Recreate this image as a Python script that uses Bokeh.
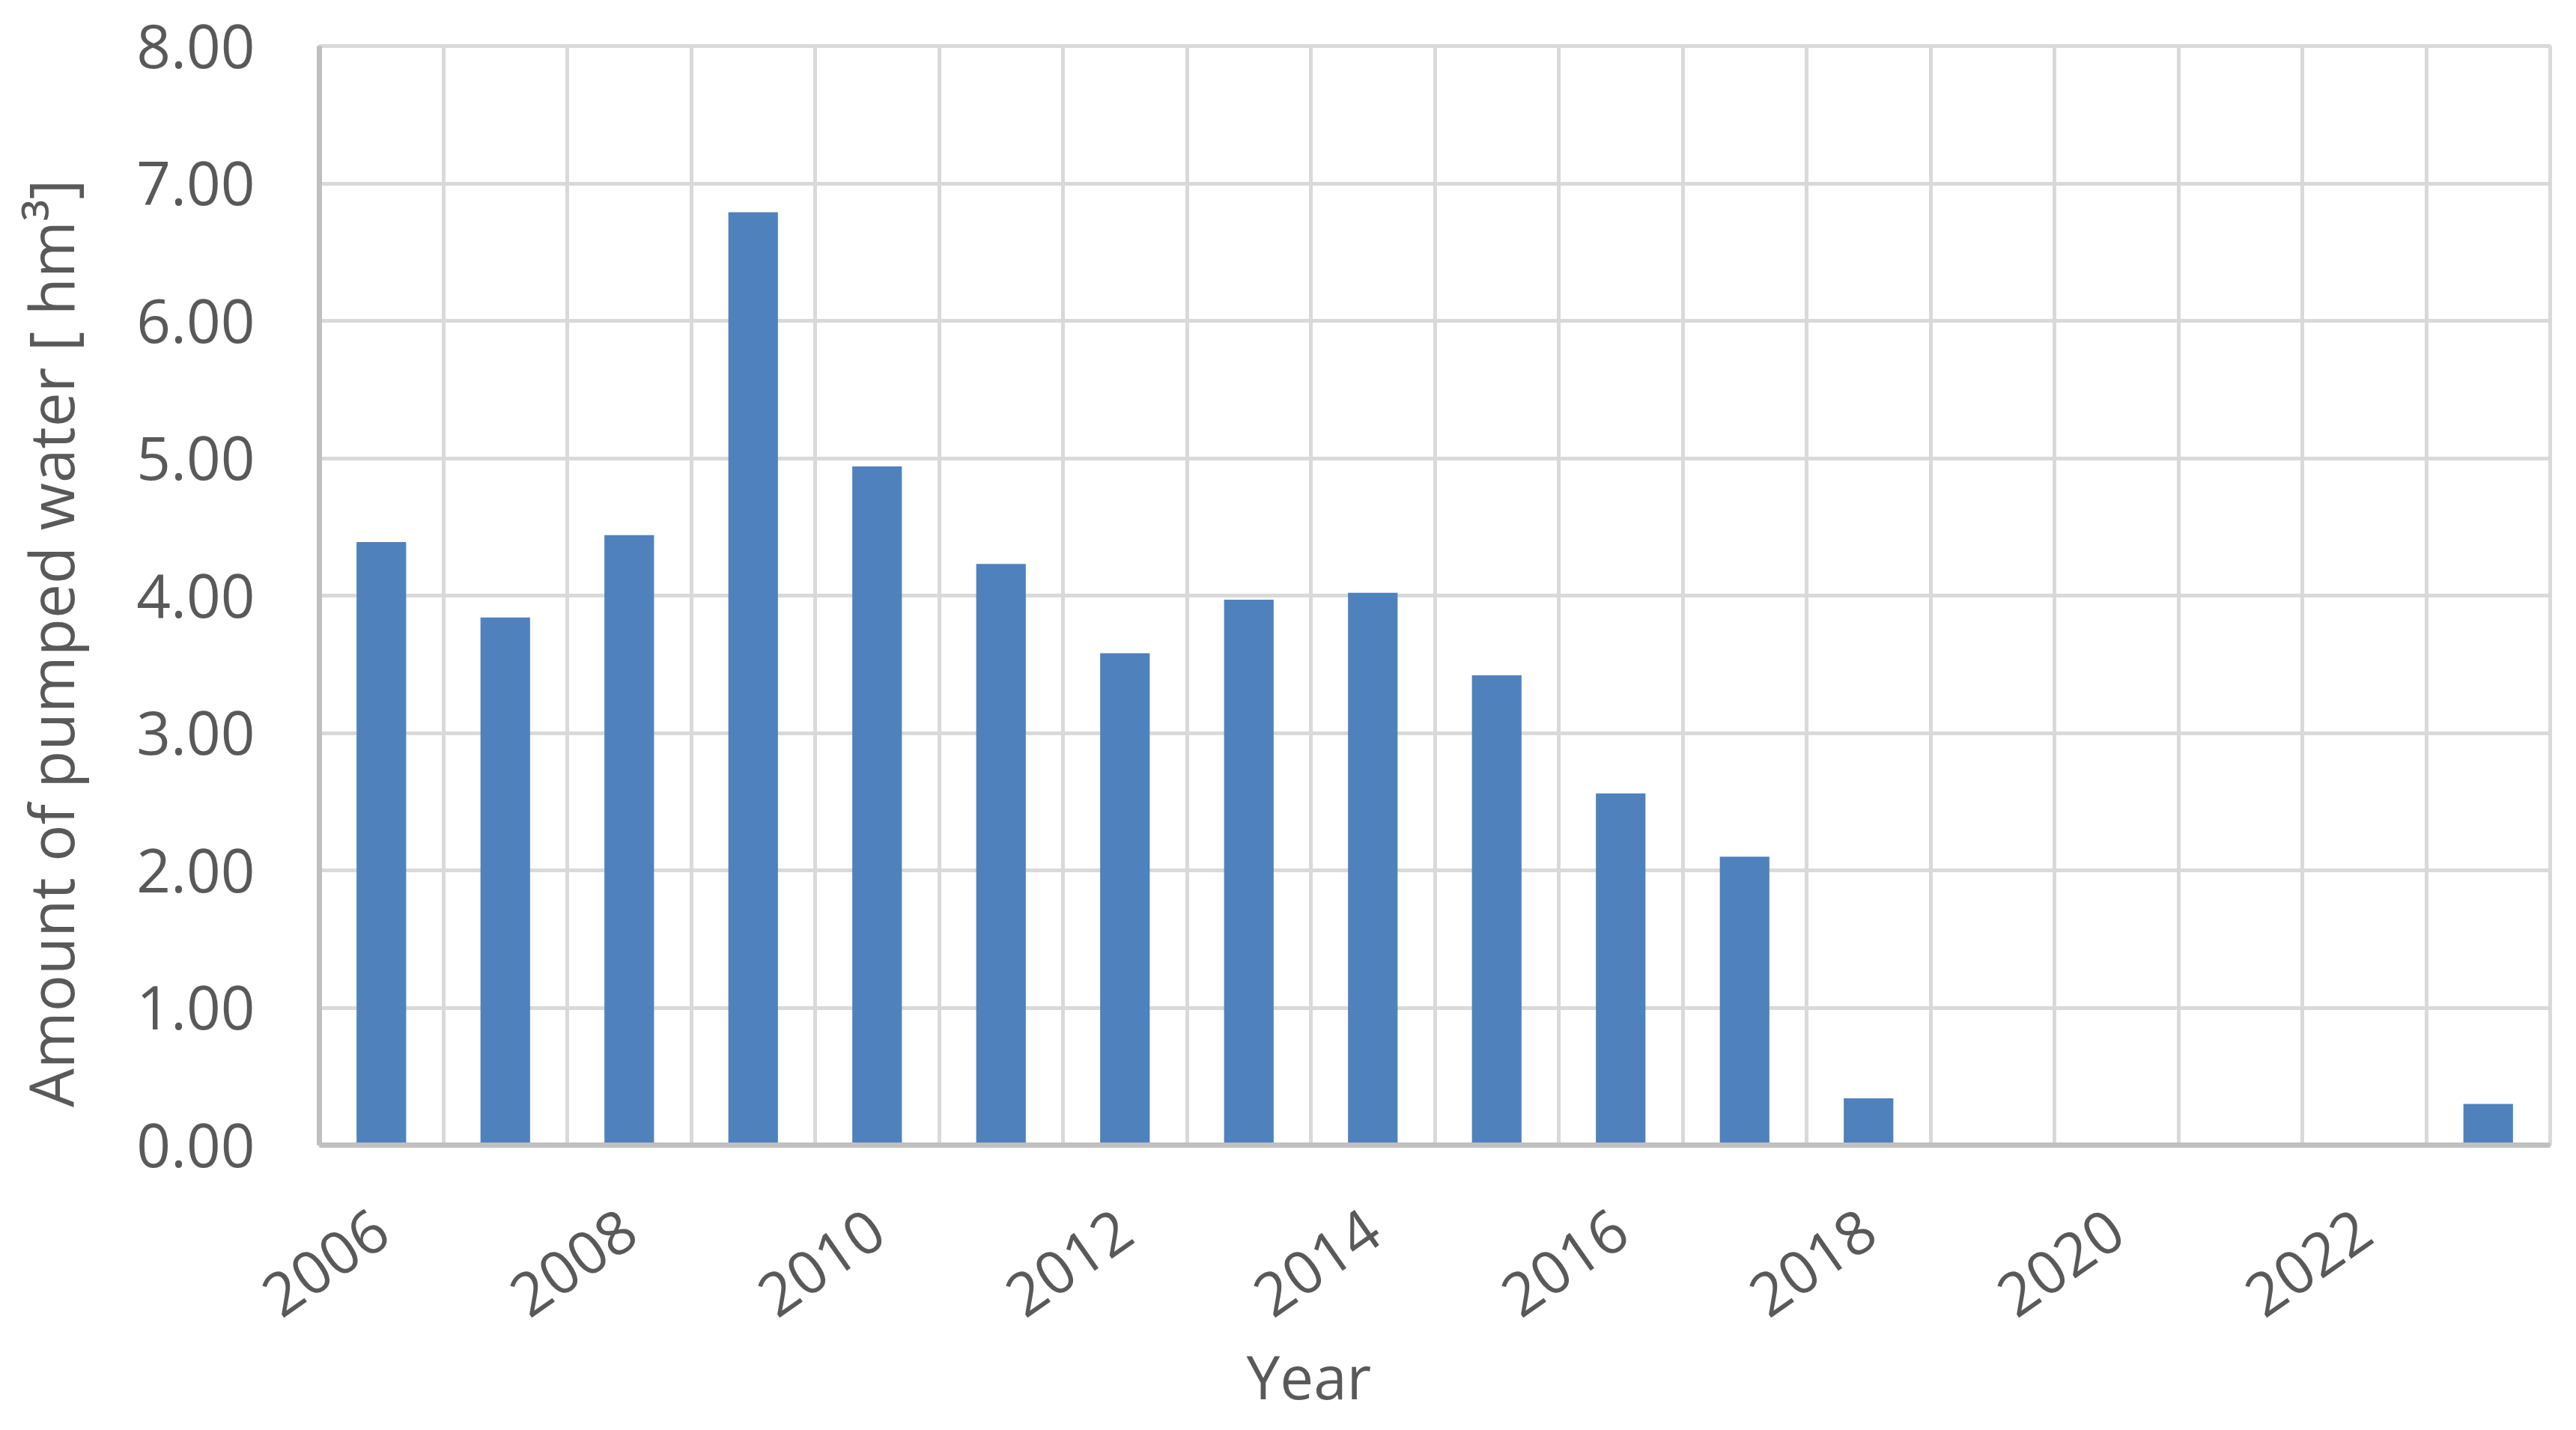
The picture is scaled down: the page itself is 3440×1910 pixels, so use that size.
import math
from bokeh.plotting import figure
from bokeh.models import Range1d, FixedTicker, NumeralTickFormatter, Title
from bokeh.embed import file_html
from bokeh.resources import INLINE

# ---- data ----
years = list(range(2006, 2024))
pumped_hm3 = [4.39, 3.84, 4.44, 6.79, 4.94, 4.23, 3.58, 3.97, 4.02, 3.42,
              2.56, 2.10, 0.34, 0.0, 0.0, 0.0, 0.0, 0.30]
label_years = [2006, 2008, 2010, 2012, 2014, 2016, 2018, 2020, 2022]
y_ticks = [0, 1, 2, 3, 4, 5, 6, 7, 8]
x_title = "Year"
y_title = "Amount of pumped water [ hm\u00b3]"

FONT = "Open Sans"
TXT = "#595959"
FS = "80px"

p = figure(width=3424, height=1894, output_backend="svg", toolbar_location=None,
           x_range=Range1d(years[0] - 0.5, years[-1] + 0.5),
           y_range=Range1d(y_ticks[0], y_ticks[-1]),
           min_border_left=426, min_border_right=19,
           min_border_top=61, min_border_bottom=365)
p.background_fill_color = "white"
p.border_fill_color = "white"
p.outline_line_color = "#D9D9D9"
p.outline_line_width = 5

p.vbar(x=years, top=pumped_hm3, width=0.4, color="#4F81BD", line_color=None)

# grids
p.xgrid.ticker = FixedTicker(ticks=[y + 0.5 for y in years])
p.xgrid.grid_line_color = "#D9D9D9"
p.xgrid.grid_line_width = 5
p.ygrid.grid_line_color = "#D9D9D9"
p.ygrid.grid_line_width = 5

# x axis
xa = p.xaxis[0]
xa.ticker = FixedTicker(ticks=label_years)
xa.major_label_orientation = math.radians(35)
xa.major_tick_line_color = None
xa.minor_tick_line_color = None
xa.axis_line_color = "#BFBFBF"
xa.axis_line_width = 7
xa.major_label_text_font = FONT
xa.major_label_text_font_size = FS
xa.major_label_text_color = TXT
xa.major_label_standoff = 98

# y axis
ya = p.yaxis[0]
ya.ticker = FixedTicker(ticks=y_ticks)
ya.formatter = NumeralTickFormatter(format="0.00")
ya.major_tick_line_color = None
ya.minor_tick_line_color = None
ya.axis_line_color = "#BFBFBF"
ya.axis_line_width = 7
ya.major_label_text_font = FONT
ya.major_label_text_font_size = FS
ya.major_label_text_color = TXT
ya.major_label_standoff = 80
# trailing no-break spaces nudge the (centred) title slightly downwards
ya.axis_label = y_title + "\u00a0" * 6
ya.axis_label_text_font = FONT
ya.axis_label_text_font_size = "82px"
ya.axis_label_text_font_style = "normal"
ya.axis_label_text_color = TXT
ya.axis_label_standoff = 56

# x axis title, offset from the frame's left edge
p.add_layout(Title(text=x_title, align="left", offset=1238, text_font=FONT,
                   text_font_size=FS, text_font_style="normal",
                   text_color=TXT, standoff=-16), "below")

open("out.html", "w").write(file_html(p, INLINE))
